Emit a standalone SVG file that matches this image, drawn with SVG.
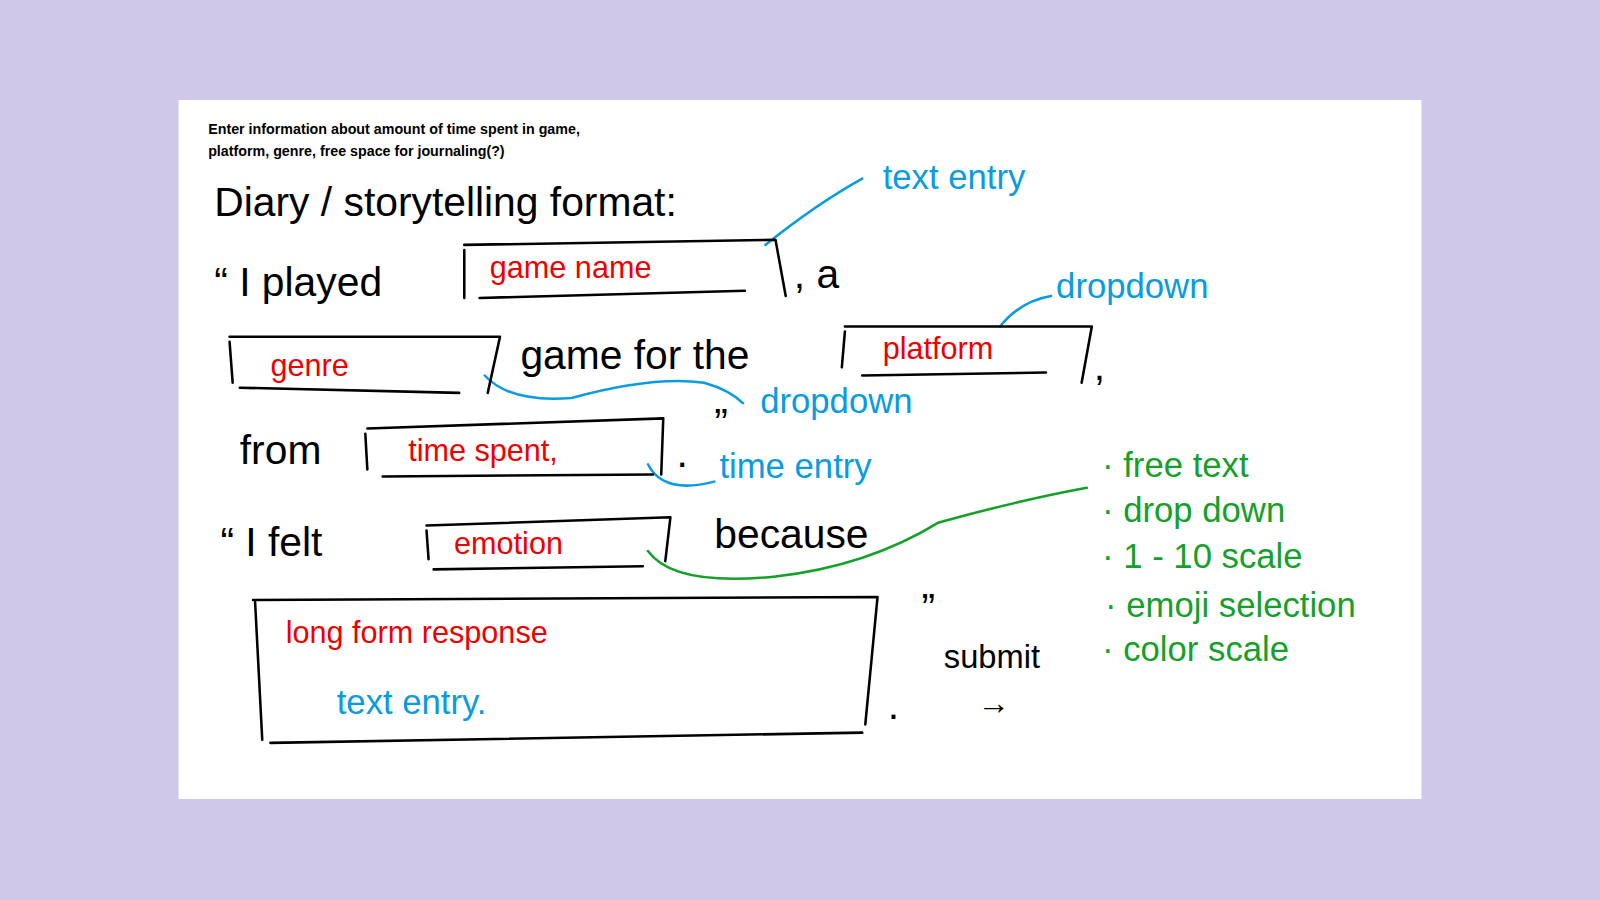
<svg xmlns="http://www.w3.org/2000/svg" width="1600" height="900" viewBox="0 0 1600 900">
<style>
.k{fill:#000;font-family:"Liberation Sans",sans-serif;font-size:40px}
.r{fill:#ee0000;font-family:"Liberation Sans",sans-serif;font-size:30px}
.b{fill:#0a9be0;font-family:"Liberation Sans",sans-serif;font-size:34px}
.g{fill:#14a02a;font-family:"Liberation Sans",sans-serif;font-size:34px}
.h{fill:#000;font-family:"Liberation Sans",sans-serif;font-size:14px;font-weight:bold}
.bx{fill:none;stroke:#000;stroke-width:2.5;stroke-linecap:round;stroke-linejoin:round}
.bl{fill:none;stroke:#0a9be0;stroke-width:2.5;stroke-linecap:round}
.gl{fill:none;stroke:#14a02a;stroke-width:2.5;stroke-linecap:round}
</style>
<rect width="1600" height="900" fill="#d0c8e8"/>
<g transform="scale(1.0204)">
<rect x="175" y="98" width="1218" height="685" fill="#fff"/>
<text class="h" x="204" y="131">Enter information about amount of time spent in game,</text>
<text class="h" x="204" y="153">platform, genre, free space for journaling(?)</text>
<text class="k" x="210" y="212">Diary / storytelling format:</text>
<text class="b" x="865" y="185">text  entry</text>
<g id="connectors">
<path class="bl" d="M750 240 Q800 200 845 175"/>
<path class="bl" d="M980 320 Q1000 295 1030 290"/>
<path class="bl" d="M475 368 Q500 395 560 390 Q640 368 690 375 Q715 382 728 395"/>
<path class="bl" d="M635 455 Q650 485 700 472"/>
<path class="gl" d="M635 540 Q660 575 760 565 Q850 555 920 512 Q1000 490 1065 478"/>
</g>
<g id="n1">
<text class="k" x="210" y="290">“ I played</text>
<path class="bx" d="M455 245 L455 292 M455 240 L760 235 L770 290 M470 292 L730 285"/>
<text class="r" x="480" y="272">game name</text>
<text class="k" x="778" y="282">, a</text>
<text class="b" x="1035" y="292">dropdown</text>
</g>
<g id="n2">
<path class="bx" d="M225 335 L228 375 M225 330 L490 330 L478 385 M235 380 L450 385"/>
<text class="r" x="265" y="368">genre</text>
<text class="k" x="510" y="362">game for the</text>
<path class="bx" d="M828 325 L825 360 M828 320 L1070 320 L1060 375 M845 368 L1025 365"/>
<text class="r" x="865" y="352">platform</text>
<text class="k" x="1072" y="372">,</text>
<text class="b" x="745" y="405">dropdown</text>
<text class="k" x="700" y="428">”</text>
</g>
<g id="n3">
<text class="k" x="235" y="455">from</text>
<path class="bx" d="M358 425 L360 460 M360 420 L650 410 L648 465 M375 467 L640 465"/>
<text class="r" x="400" y="452">time spent,</text>
<text class="k" x="663" y="458">.</text>
<text class="b" x="705" y="468">time entry</text>
</g>
<g id="n4">
<text class="k" x="216" y="545">“ I felt</text>
<path class="bx" d="M418 520 L420 548 M418 515 L657 507 L652 550 M425 558 L630 555"/>
<text class="r" x="445" y="543">emotion</text>
<text class="k" x="700" y="537">because</text>
</g>
<g id="n5">
<text class="g" x="1080" y="467">· free text</text>
<text class="g" x="1080" y="512">· drop down</text>
<text class="g" x="1080" y="557">· 1 - 10 scale</text>
<text class="g" x="1083" y="605">· emoji selection</text>
<text class="g" x="1080" y="648">· color scale</text>
</g>
<g id="n6">
<path class="bx" d="M250 590 L257 725 M248 588 L860 585 L848 710 M265 728 L845 718"/>
<text class="r" x="280" y="630">long form response</text>
<text class="b" x="330" y="700">text  entry.</text>
<text class="k" x="870" y="705">.</text>
</g>
<g id="n7">
<text class="k" x="903" y="610">”</text>
<text class="k" x="925" y="655" style="font-size:32px">submit</text>
<text class="k" x="958" y="700" style="font-size:32px">→</text>
</g>
</g>
</svg>
